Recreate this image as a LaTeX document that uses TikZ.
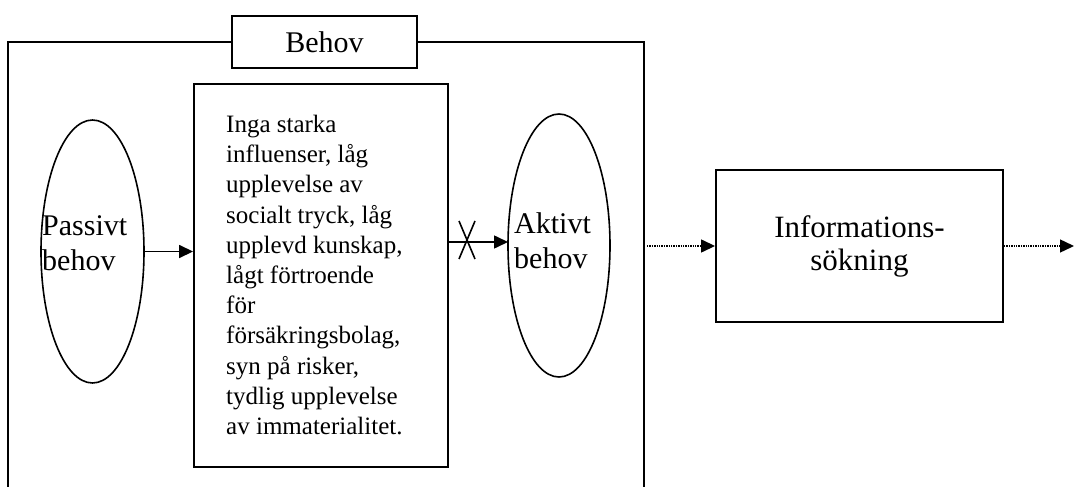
\documentclass[tikz,border=0pt]{standalone}
\usepackage{fontspec}
\setmainfont{Liberation Serif}
\usetikzlibrary{arrows.meta,shapes.geometric}
\begin{document}
\begin{tikzpicture}[x=1pt,y=-1pt,
  frame/.style={draw,line width=2pt},
  boxnode/.style={draw,line width=1.9pt,inner sep=0pt},
  ell/.style={draw,ellipse,line width=1.6pt,inner sep=0pt},
  biglabel/.style={font=\fontsize{30}{35}\selectfont,inner sep=0pt},
  smalltext/.style={font=\fontsize{25}{30.2}\selectfont,inner sep=0pt,align=left},
  solidarrow/.style={line width=1.6pt,-{Triangle[length=14pt,width=13pt]}},
  dotarrow/.style={line width=1.4pt,densely dotted,-{Triangle[length=14pt,width=13pt]}},
  cross/.style={line width=1.6pt}
]
\useasboundingbox (0,0) rectangle (1074,487);
\begin{scope}
\clip (0,0) rectangle (1074,487);

% title box of the "Behov" frame
\node[boxnode,minimum width=185pt,minimum height=52pt,
      font=\fontsize{30}{35}\selectfont] (behov) at (324.5,42) {Behov};

% open frame around the need stage
\coordinate (frameBL) at (8,490);
\coordinate (frameBR) at (644,490);
\draw[frame] (behov.west) -- (8,42) -- (frameBL);
\draw[frame] (behov.east) -- (644,42) -- (frameBR);

% passive need
\node[ell,minimum width=103pt,minimum height=263pt] (pas) at (92.5,251.5) {};
\node[biglabel,anchor=base west] (pasA) at (42,235) {Passivt};
\node[biglabel,anchor=base west] (pasB) at (42,270) {behov};

% influences box
\node[boxnode,minimum width=254pt,minimum height=383pt] (infl) at (321,275.5) {};
\node[smalltext,anchor=north west] (infltext) at (226,115) {Inga starka\\
influenser, låg\\
upplevelse av\\
socialt tryck, låg\\
upplevd kunskap,\\
lågt förtroende\\
för\\
försäkringsbolag,\\
syn på risker,\\
tydlig upplevelse\\
av immaterialitet.};

% active need
\node[ell,minimum width=102pt,minimum height=263pt] (akt) at (559,245.5) {};
\node[biglabel,anchor=base west] (aktA) at (514,233) {Aktivt};
\node[biglabel,anchor=base west] (aktB) at (514,268) {behov};

% information search
\node[boxnode,minimum width=287pt,minimum height=152pt,align=center,
      font=\fontsize{31}{33}\selectfont] (info) at (859.5,246)
      {Informations-\\sökning};

% connectors
\draw[solidarrow] (pas.east) -- (pas.east -| infl.west);
\coordinate (aktin) at (508,242);
\draw[solidarrow] (infl.east |- aktin) -- (aktin);
\coordinate (cut) at (467,240);
\draw[cross] ([shift={(-8,-19)}]cut) -- ([shift={(8,19)}]cut);
\draw[cross] ([shift={(8,-19)}]cut) -- ([shift={(-8,19)}]cut);

\coordinate (dotstart) at (647,246);
\draw[dotarrow] (dotstart) -- (info.west);
\coordinate (next) at (1074,246);
\draw[dotarrow] (info.east) -- (next);
\end{scope}
\end{tikzpicture}
\end{document}
